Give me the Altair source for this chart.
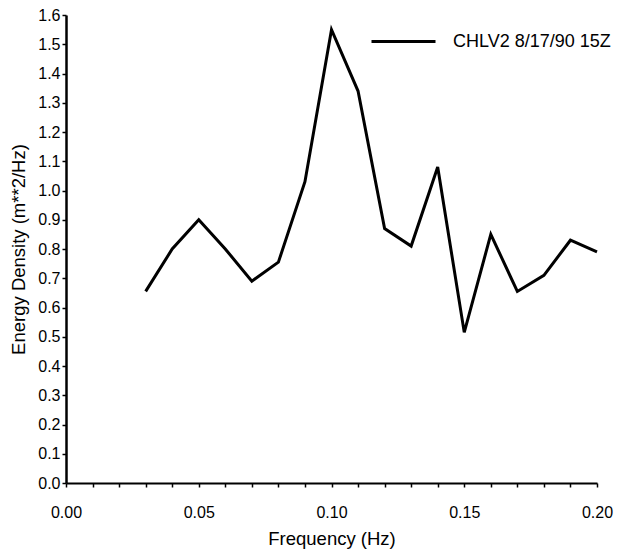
import altair as alt
import pandas as pd

freq = [0.03, 0.04, 0.05, 0.06, 0.07, 0.08, 0.09, 0.10, 0.11, 0.12,
        0.13, 0.14, 0.15, 0.16, 0.17, 0.18, 0.19, 0.20]
energy = [0.655, 0.80, 0.90, 0.80, 0.69, 0.755, 1.03, 1.55, 1.34, 0.87,
          0.81, 1.08, 0.515, 0.85, 0.655, 0.71, 0.83, 0.79]
series_name = "CHLV2 8/17/90 15Z"
x_ticks = [round(i * 0.01, 2) for i in range(21)]
y_ticks = [round(i * 0.1, 1) for i in range(17)]

df = pd.DataFrame({"Frequency": freq, "Energy": energy, "Series": [series_name] * len(freq)})

FONT = "Liberation Sans"

chart = alt.Chart(df).mark_line(strokeWidth=3, color="black").encode(
    x=alt.X("Frequency:Q",
            scale=alt.Scale(domain=[0, 0.2], nice=False, zero=False),
            axis=alt.Axis(title="Frequency (Hz)", values=x_ticks,
                          labelExpr="abs(datum.value*20 - round(datum.value*20)) < 0.001 ? format(datum.value, '.2f') : ''",
                          grid=False, tickSize=4, labelPadding=17, labelFlush=False,
                          titlePadding=9)),
    y=alt.Y("Energy:Q",
            scale=alt.Scale(domain=[0, 1.6], nice=False),
            axis=alt.Axis(title="Energy Density (m**2/Hz)", values=y_ticks,
                          format=".1f", grid=False, tickSize=4, labelPadding=2,
                          titlePadding=9)),
    color=alt.Color("Series:N",
                    scale=alt.Scale(range=["black"]),
                    legend=alt.Legend(title=None, orient="none", legendX=304, legendY=-7,
                                      symbolType="stroke", symbolSize=4096,
                                      symbolStrokeWidth=3, labelFontSize=18,
                                      labelFont=FONT, labelColor="black",
                                      labelOffset=16)),
).properties(
    width=531,
    height=468,
    autosize=alt.AutoSizeParams(type="none"),
    padding={"left": 66, "top": 15, "right": 24, "bottom": 67},
).configure_view(
    stroke=None
).configure_axis(
    domainColor="black", domainWidth=2, tickColor="black", tickWidth=1.5,
    labelColor="black", titleColor="black", labelFont=FONT, titleFont=FONT,
    labelFontSize=16, titleFontSize=18.5, titleFontWeight="normal",
).configure_axisY(
    domainWidth=2.5
)

chart.save("out.html", embed_options={"renderer": "svg", "actions": False})
